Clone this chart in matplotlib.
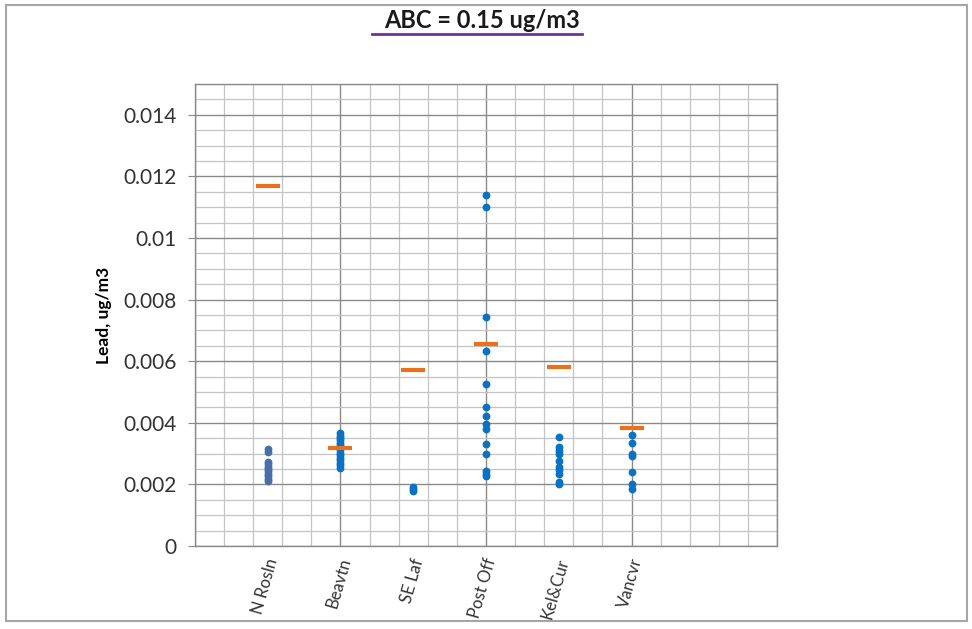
import numpy as np
import matplotlib
matplotlib.use("Agg")
import matplotlib.pyplot as plt
from matplotlib.patches import Rectangle
from matplotlib.lines import Line2D
from matplotlib.ticker import MultipleLocator

plt.rcParams['font.family'] = ['Lato', 'DejaVu Sans']

# values
sites = ['N Rosln', 'Beavtn', 'SE Laf', 'Post Off', 'Kel&Cur', 'Vancvr']
n_rosln = [0.00314, 0.00305, 0.00272, 0.00265, 0.00258, 0.00250, 0.00242, 0.00234, 0.00226, 0.00218, 0.00210]
beavtn = [0.00366, 0.00358, 0.00351, 0.00343, 0.00335, 0.00327, 0.00318, 0.00311, 0.00302, 0.00295, 0.00286, 0.00278, 0.00270, 0.00262, 0.00254]
se_laf = [0.00192, 0.00185, 0.00179]
post_off = [0.01138, 0.01101, 0.00743, 0.00632, 0.00525, 0.00450, 0.00422, 0.00396, 0.00379, 0.00330, 0.00298, 0.00244, 0.00234, 0.00228]
kel_cur = [0.00353, 0.00322, 0.00309, 0.00300, 0.00275, 0.00257, 0.00246, 0.00233, 0.00208, 0.00200]
vancvr = [0.00360, 0.00335, 0.00300, 0.00292, 0.00241, 0.00200, 0.00186]
site_avg = [0.0117, 0.00319, 0.00572, 0.00657, 0.00580, 0.00383]

all_data = [n_rosln, beavtn, se_laf, post_off, kel_cur, vancvr]
dot_colors = ['#4a6fa8', '#0a72c4', '#0a72c4', '#0a72c4', '#0a72c4', '#0a72c4']

fig = plt.figure(figsize=(9.72, 6.29), dpi=100)
ax = fig.add_axes([0.2006, 0.132, 0.5988, 0.7345])

for i, vals in enumerate(all_data):
    xs = np.full(len(vals), i + 1)
    ax.plot(xs, vals, 'o', color=dot_colors[i], markersize=4.6, zorder=3)

ax.plot(np.arange(1, len(sites) + 1), site_avg, '_', color='#e8711a',
        markersize=17, markeredgewidth=3, zorder=4)

ax.set_xlim(0, 8)
ax.set_ylim(0, 0.015)
ax.xaxis.set_major_locator(MultipleLocator(2))
ax.xaxis.set_minor_locator(MultipleLocator(0.4))
ax.yaxis.set_major_locator(MultipleLocator(0.002))
ax.yaxis.set_minor_locator(MultipleLocator(0.0005))
ax.grid(which='major', color='#8a8a8a', linewidth=1.0, zorder=0)
ax.grid(which='minor', color='#c4c4c4', linewidth=0.9, zorder=0)
ax.set_axisbelow(True)

ylabs = ['0', '0.002', '0.004', '0.006', '0.008', '0.01', '0.012', '0.014']
ax.set_yticks(np.arange(0, 0.0141, 0.002))
ax.set_yticklabels(ylabs, fontsize=15, color='#333333')
ax.tick_params(axis='y', which='major', length=5, color='#8a8a8a', pad=8)
ax.tick_params(axis='y', which='minor', length=0)

# category names drawn as rotated labels under each site
for i, s in enumerate(sites):
    ax.annotate(s, xy=(i + 1, 0), xycoords=('data', 'axes fraction'),
                xytext=(4, -9), textcoords='offset points',
                rotation=74, rotation_mode='anchor', ha='right', va='center',
                fontsize=12, color='#333333')
ax.tick_params(axis='x', which='both', length=0, labelbottom=False)

for sp in ax.spines.values():
    sp.set_color('#8a8a8a')
    sp.set_linewidth(1.0)

ax.set_ylabel('Lead, ug/m3', fontsize=12.5, fontweight='bold', labelpad=8)

fig.text(0.4955, 0.968, 'ABC = 0.15 ug/m3', ha='center', va='center',
         fontsize=17, fontweight='bold', color='#1a1a1a')
fig.add_artist(Line2D([372 / 972, 582 / 972], [1 - 34 / 629, 1 - 34 / 629],
                      transform=fig.transFigure, color='#7030a0', linewidth=2))

fig.add_artist(Rectangle((6 / 972, 1 - 621 / 629), 961 / 972, 616 / 629,
                         transform=fig.transFigure, fill=False,
                         edgecolor='#a6a6a6', linewidth=1.5))

plt.savefig('out.png', dpi=100)
